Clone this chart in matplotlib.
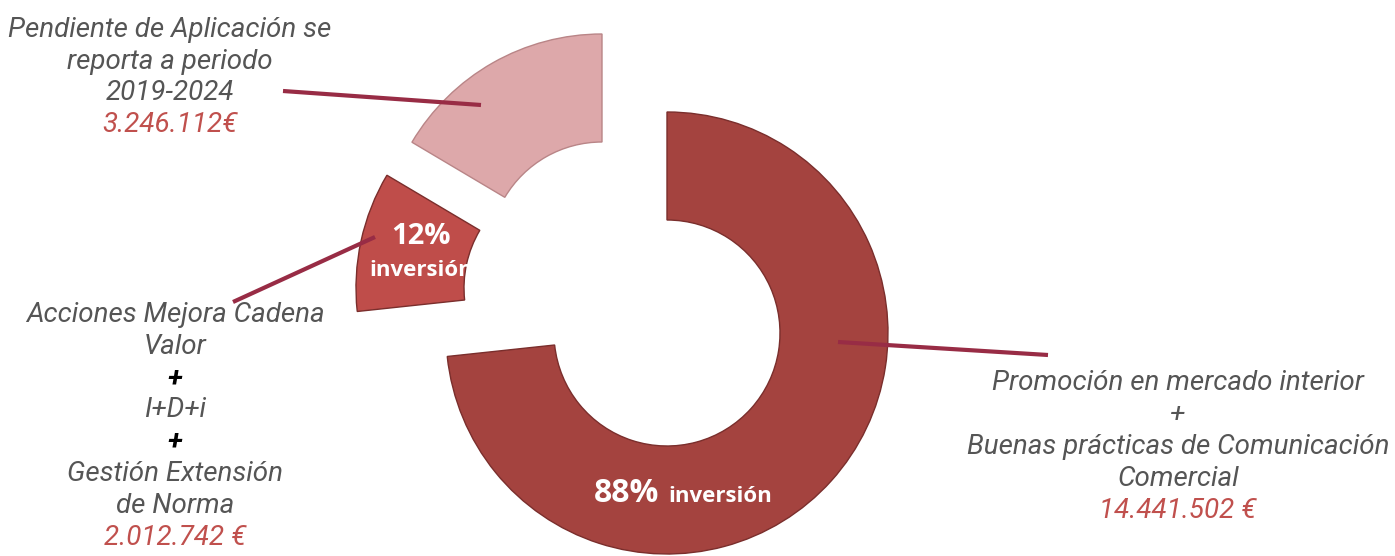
import matplotlib.pyplot as plt

# data
categories = ["Promoción en mercado interior\n+\nBuenas prácticas de Comunicación\nComercial",
              "Acciones Mejora Cadena\nValor\n+\nI+D+i\n+\nGestión Extensión\nde Norma",
              "Pendiente de Aplicación se\nreporta a periodo\n2019-2024"]
values = [14441502, 2012742, 3246112]
value_suffix = [" €", " €", "€"]

colors = ["#A4433F", "#BF4D4A", "#DDA8AA"]
grey = "#555555"
red = "#C0504D"
line_col = "#982C45"


def eur(v):
    return f"{v:,}".replace(",", ".")


W, H = 1395, 556
fig = plt.figure(figsize=(W / 100, H / 100), dpi=100)
ax = fig.add_axes([0, 0, 1, 1])

cx, cy, r_out, r_in = 667, H - 333, 221, 113
wedges, _ = ax.pie(values, radius=r_out, center=(cx, cy), startangle=90,
                   counterclock=False, colors=colors,
                   wedgeprops=dict(width=r_out - r_in, edgecolor="#7a2e2c",
                                   linewidth=1.0))
wedges[2].set_edgecolor("#b98587")

# exploded slices
offsets = [(0, 0), (-90, 45), (-65, 78)]
for w, (dx, dy) in zip(wedges, offsets):
    w.set_center((cx + dx, cy + dy))

ax.set_xlim(0, W)
ax.set_ylim(0, H)
ax.set_aspect("equal")
ax.axis("off")

# share of investment between the two applied items
applied = values[0] + values[1]
pct_main = round(100 * values[0] / applied)
pct_small = round(100 * values[1] / applied)

ff = ["Open Sans", "DejaVu Sans"]
ax.text(594, H - 493, f"{pct_main}%", color="white", fontsize=23, fontweight="bold",
        family=ff, ha="left", va="center")
ax.text(668, H - 496, "inversión", color="white", fontsize=16, fontweight="bold",
        family=ff, ha="left", va="center")
ax.text(421, H - 236, f"{pct_small}%", color="white", fontsize=21, fontweight="bold",
        family=ff, ha="center", va="center")
t = ax.text(369, H - 271, "inversión", color="white", fontsize=16, fontweight="bold",
            family=ff, ha="left", va="center")
t.set_clip_path(wedges[1])

# labels
tf = dict(family=["Roboto", "DejaVu Sans"], style="italic", fontsize=20,
          ha="center", va="center")

pend = categories[2].split("\n")
for i, s in enumerate(pend):
    ax.text(170, H - (30 + 31.7 * i), s, color=grey, **tf)
ax.text(170, H - 125, eur(values[2]) + value_suffix[2], color=red, **tf)

small = categories[1].split("\n")
for i, s in enumerate(small):
    if s == "+":
        ax.text(175, H - (315 + 31.8 * i), s, color="black", fontweight="bold", **tf)
    else:
        ax.text(175, H - (315 + 31.8 * i), s, color=grey, **tf)
ax.text(175, H - 538, eur(values[1]) + value_suffix[1], color=red, **tf)

main = categories[0].split("\n")
for i, s in enumerate(main):
    ax.text(1178, H - (383 + 32 * i), s, color=grey, **tf)
ax.text(1178, H - 511, eur(values[0]) + value_suffix[0], color=red, **tf)

# leader lines
lw = 3
ax.plot([283, 481], [H - 91, H - 105], color=line_col, lw=lw, solid_capstyle="butt")
ax.plot([233, 375], [H - 302, H - 237], color=line_col, lw=lw, solid_capstyle="butt")
ax.plot([838, 1048], [H - 342, H - 355], color=line_col, lw=lw, solid_capstyle="butt")

fig.savefig("out.png", dpi=100)
